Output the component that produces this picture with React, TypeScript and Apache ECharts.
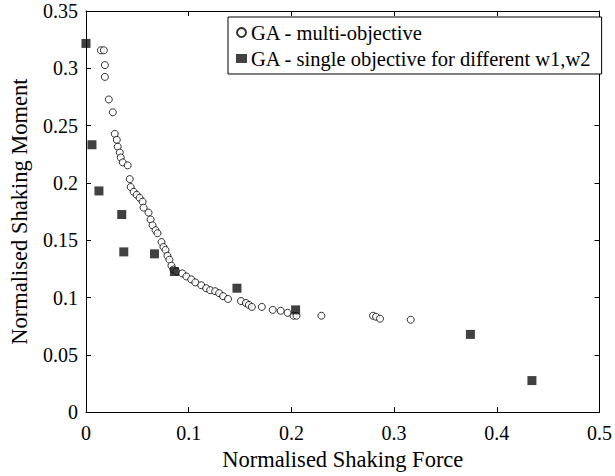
import React, { useEffect, useRef } from "react";
import * as echarts from "echarts";

// GA - multi-objective (Pareto front)
const multiForce = [
  0.0145, 0.0174, 0.0184, 0.0184, 0.0222, 0.0261, 0.028, 0.03, 0.0309, 0.0329,
  0.0338, 0.0358, 0.0406, 0.0426, 0.0435, 0.0464, 0.0493, 0.0522, 0.0551, 0.0561,
  0.0609, 0.0629, 0.0648, 0.0677, 0.0696, 0.0735, 0.0754, 0.0774, 0.0793, 0.0812,
  0.0832, 0.0851, 0.088, 0.0938, 0.0977, 0.1025, 0.1064, 0.1122, 0.117, 0.1209,
  0.1257, 0.1296, 0.1335, 0.1383, 0.1509, 0.1557, 0.1586, 0.1615, 0.1712, 0.1818,
  0.1896, 0.1963, 0.2021, 0.205, 0.2292, 0.2795, 0.2824, 0.2863, 0.3162,
];
const multiMoment = [
  0.3157, 0.3157, 0.3028, 0.2925, 0.2728, 0.2616, 0.2428, 0.2376, 0.2316, 0.2265,
  0.2222, 0.2179, 0.2153, 0.2033, 0.1964, 0.1922, 0.1896, 0.187, 0.1836, 0.1784,
  0.1741, 0.1681, 0.163, 0.1587, 0.1561, 0.1484, 0.1441, 0.1415, 0.1364, 0.133,
  0.1278, 0.1244, 0.1227, 0.121, 0.1184, 0.1158, 0.1132, 0.1107, 0.1081, 0.1064,
  0.1055, 0.1038, 0.1012, 0.0987, 0.0969, 0.0952, 0.0935, 0.0918, 0.0918, 0.0892,
  0.0884, 0.0866, 0.0841, 0.0841, 0.0841, 0.0841, 0.0832, 0.0815, 0.0806,
];

// GA - single objective for different w1,w2
const singleForce = [0.0, 0.0058, 0.0126, 0.0348, 0.0368, 0.0667, 0.0861, 0.147, 0.2041, 0.3743, 0.4342];
const singleMoment = [0.3217, 0.2333, 0.193, 0.1724, 0.1398, 0.1381, 0.1227, 0.1081, 0.0892, 0.0678, 0.0275];

const seriesNames = ["GA - multi-objective", "GA - single objective for different w1,w2"];
const xTitle = "Normalised Shaking Force";
const yTitle = "Normalised Shaking Moment";

const FONT = "'Liberation Serif', 'Times New Roman', serif";

export default function App() {
  const ref = useRef<HTMLDivElement>(null);

  useEffect(() => {
    if (!ref.current) return;
    const chart = echarts.init(ref.current, null, { renderer: "svg" });
    const fmt = (v: number) => String(+v.toFixed(2));
    const axisLine = { show: true, onZero: false, lineStyle: { color: "#000", width: 1 } };
    const tick = { show: true, inside: true, length: 5, lineStyle: { color: "#000" } };
    chart.setOption({
      animation: false,
      backgroundColor: "#fff",
      textStyle: { fontFamily: FONT },
      grid: { left: 86, right: 12, top: 11, bottom: 57 },
      legend: {
        left: 228,
        top: 17,
        orient: "vertical",
        padding: [5, 10, 5, 8],
        itemGap: 5,
        itemWidth: 11,
        itemHeight: 9,
        borderColor: "#000",
        borderWidth: 1,
        borderRadius: 0,
        backgroundColor: "#fff",
        textStyle: { fontFamily: FONT, fontSize: 20.5, color: "#000", padding: [0, 0, 0, -1] },
        data: [{ name: seriesNames[0] }, { name: seriesNames[1] }],
      },
      xAxis: [
        {
          type: "value",
          min: 0,
          max: 0.5,
          interval: 0.1,
          position: "bottom",
          axisLine,
          axisTick: tick,
          splitLine: { show: false },
          axisLabel: { fontFamily: FONT, fontSize: 20, color: "#000", margin: 11, formatter: fmt },
          name: xTitle,
          nameLocation: "middle",
          nameGap: 33,
          nameTextStyle: { fontFamily: FONT, fontSize: 22.5, color: "#000" },
        },
        {
          type: "value",
          min: 0,
          max: 0.5,
          interval: 0.1,
          position: "top",
          axisLine,
          axisTick: tick,
          splitLine: { show: false },
          axisLabel: { show: false },
        },
      ],
      yAxis: [
        {
          type: "value",
          min: 0,
          max: 0.35,
          interval: 0.05,
          position: "left",
          axisLine,
          axisTick: tick,
          splitLine: { show: false },
          axisLabel: { fontFamily: FONT, fontSize: 20, color: "#000", margin: 8, formatter: fmt },
          name: yTitle,
          nameLocation: "middle",
          nameGap: 55,
          nameTextStyle: { fontFamily: FONT, fontSize: 22.5, color: "#000" },
        },
        {
          type: "value",
          min: 0,
          max: 0.35,
          interval: 0.05,
          position: "right",
          axisLine,
          axisTick: tick,
          splitLine: { show: false },
          axisLabel: { show: false },
        },
      ],
      series: [
        {
          name: seriesNames[0],
          type: "scatter",
          xAxisIndex: 0,
          yAxisIndex: 0,
          symbol: "circle",
          symbolSize: 7,
          itemStyle: { color: "#fff", borderColor: "#000", borderWidth: 1 },
          data: multiForce.map((x, i) => [x, multiMoment[i]]),
          z: 2,
        },
        {
          name: seriesNames[1],
          type: "scatter",
          xAxisIndex: 0,
          yAxisIndex: 0,
          symbol: "rect",
          symbolSize: 9,
          itemStyle: { color: "#111", borderColor: "#111", borderWidth: 0 },
          data: singleForce.map((x, i) => [x, singleMoment[i]]),
          z: 3,
        },
      ],
    });
    return () => chart.dispose();
  }, []);

  return (
    <div
      ref={ref}
      style={{ position: "fixed", left: 0, top: 0, width: 615, height: 476 }}
    />
  );
}
